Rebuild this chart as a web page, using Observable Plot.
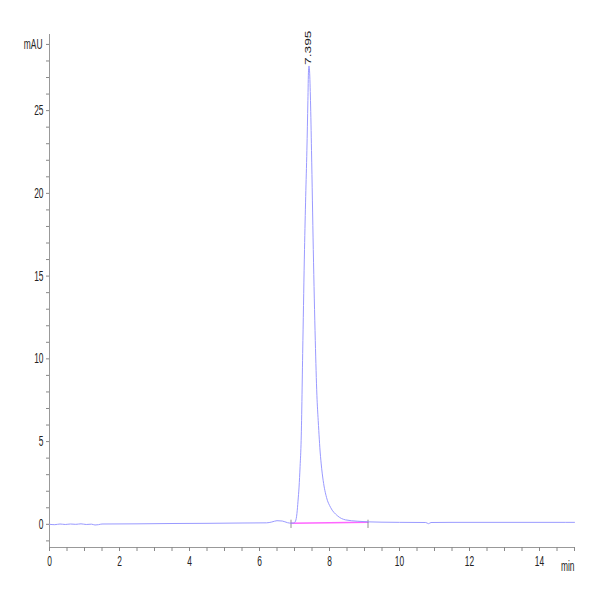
<!DOCTYPE html>
<html><head><meta charset="utf-8">
<script src="https://cdn.jsdelivr.net/npm/d3@7"></script>
<script src="https://cdn.jsdelivr.net/npm/@observablehq/plot@0.6"></script>
<style>body{margin:0;background:#fff}</style>
</head><body><div id="chart"></div>
<script>
// Chromatogram trace (retention time in min, absorbance in mAU)
const time = [0,0.15,0.3,0.45,0.6,0.75,0.9,1.05,1.2,1.3,1.4,1.5,2.5,3.5,4.5,5.5,6.2,6.35,6.5,6.65,6.8,6.9,6.98,7.03,7.07,7.1,7.13,7.16,7.19,7.24,7.286,7.32,7.354,7.383,7.40,7.415,7.43,7.457,7.486,7.537,7.594,7.64,7.677,7.694,7.723,7.763,7.82,7.914,8.029,8.22,8.457,8.79,9.1,9.5,10,10.75,10.83,10.9,11.5,12.5,13.5,14.5,15];
const mAU  = [0.00,-0.02,0.02,-0.01,0.02,0.00,0.03,-0.01,0.01,-0.04,-0.02,0.02,0.03,0.05,0.06,0.08,0.09,0.14,0.22,0.20,0.10,0.07,0.08,0.20,0.66,1.4,2.25,3.5,5.08,11.1,16.6,19.8,22.6,25.6,27.4,27.7,27.4,25.6,22.6,16.6,11.1,7.8,6.28,5.67,4.66,3.65,2.64,1.63,1.03,0.53,0.27,0.19,0.15,0.13,0.12,0.11,0.04,0.11,0.12,0.12,0.12,0.12,0.12];
// Integration baseline
const baseTime = [6.9, 9.1];
const baseValue = [0.07, 0.12];
// Peak annotation
const peakTime = [7.395];
const peakHeight = [27.7];
const peakLabel = ["7.395"];
// Axis ticks and unit labels
const xTickLabels = [0,2,4,6,8,10,12,14];
const yTickLabels = [0,5,10,15,20,25];
const xMinorTicks = d3.range(0, 15.01, 0.5);
const yMinorTicks = d3.range(-1, 30, 1);
const xDomain = [0, 15];
const yDomain = [-1.4, 29.6];
const yUnit = "mAU";
const xUnit = "min";

const trace = time.map((t, i) => ({t, v: mAU[i]}));
const baseline = baseTime.map((t, i) => ({t, v: baseValue[i]}));
const peaks = peakTime.map((t, i) => ({t, v: peakHeight[i], label: peakLabel[i]}));

const font = "'Liberation Sans', Arial, sans-serif";

const chart = Plot.plot({
  width: 600, height: 600,
  marginLeft: 49, marginRight: 26, marginTop: 34, marginBottom: 53,
  x: {domain: xDomain, label: null},
  y: {domain: yDomain, label: null},
  style: {fontFamily: font, fontSize: "14px", color: "#222", background: "#fff"},
  marks: [
    Plot.ruleX([xDomain[0]], {stroke: "#999"}),
    Plot.ruleY([yDomain[0]], {stroke: "#999"}),
    Plot.axisX({ticks: xMinorTicks, tickFormat: () => "", tickSize: 4, stroke: "#888"}),
    Plot.axisX({ticks: xTickLabels, tickSize: 0, tickPadding: 9, fill: "#222"}),
    Plot.axisY({ticks: yMinorTicks, tickFormat: () => "", tickSize: 3, stroke: "#888"}),
    Plot.axisY({ticks: yTickLabels, tickSize: 0, tickPadding: 6, fill: "#222"}),
    Plot.text([yUnit], {x: xDomain[0], y: 29, text: d => d, textAnchor: "end", dx: -7, fill: "#222"}),
    Plot.text([xUnit], {x: xDomain[1], y: yDomain[0], text: d => d, textAnchor: "end", dy: 19, fill: "#222"}),
    Plot.line(baseline, {x: "t", y: "v", stroke: "#ff66ff", strokeWidth: 1.5}),
    Plot.ruleX(baseTime, {y1: -0.25, y2: 0.25, stroke: "#777", strokeWidth: 0.8}),
    Plot.line(trace, {x: "t", y: "v", stroke: "#9a9aff", strokeWidth: 1, curve: "monotone-x"}),
    Plot.text(peaks, {x: "t", y: "v", text: "label", rotate: -90, textAnchor: "start", dy: -1, fontSize: 9.5, fill: "#222"})
  ]
});

// The reference picture is stretched vertically: narrow, tall glyphs
const narrow = new Set([yUnit, xUnit]);
const wide = new Set(peakLabel);
chart.querySelectorAll("text").forEach(t => {
  const g = t.closest("g[aria-label]");
  const lab = g ? g.getAttribute("aria-label") : "";
  const s = t.textContent;
  let sx = null;
  if (lab === "x-axis tick label" || lab === "y-axis tick label" || narrow.has(s)) sx = 0.6;
  else if (wide.has(s)) sx = 1.45;
  if (sx !== null) {
    const tr = t.getAttribute("transform") || "";
    t.setAttribute("transform", `${tr} scale(${sx},1)`);
  }
});

document.getElementById("chart").appendChild(chart);
</script>
</body></html>
